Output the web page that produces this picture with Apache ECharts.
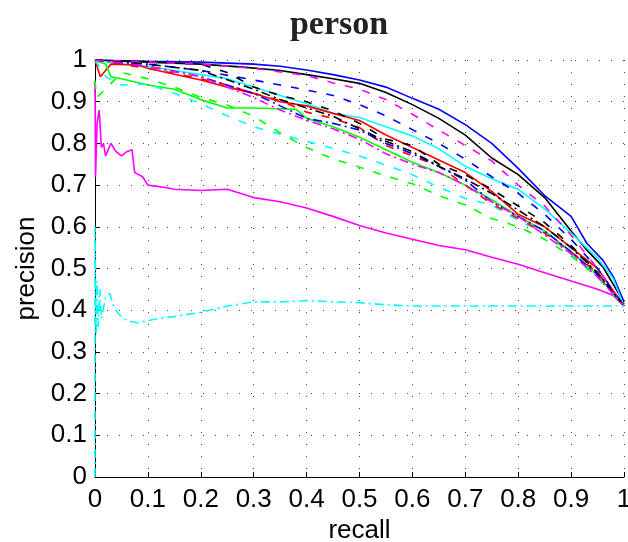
<!DOCTYPE html>
<html>
<head>
<meta charset="utf-8">
<script src="https://cdn.jsdelivr.net/npm/echarts@6/dist/echarts.min.js"></script>
<style>
  html, body { margin: 0; padding: 0; background: #fff; }
  #chart { width: 628px; height: 542px; }
</style>
</head>
<body>
<div id="chart"></div>
<script>
// recall / precision pairs
const blueSolid = [[0,1],[0.1,0.997],[0.2,0.995],[0.3,0.99],[0.35,0.985],[0.4,0.976],[0.45,0.965],[0.5,0.952],[0.55,0.935],[0.6,0.908],[0.65,0.882],[0.7,0.845],[0.75,0.8],[0.8,0.74],[0.85,0.675],[0.9,0.625],[0.93,0.56],[0.96,0.52],[0.98,0.48],[1,0.42]];
const blackSolid = [[0,1],[0.1,0.995],[0.2,0.99],[0.28,0.983],[0.35,0.975],[0.4,0.965],[0.45,0.955],[0.5,0.944],[0.55,0.922],[0.6,0.893],[0.65,0.86],[0.7,0.82],[0.75,0.765],[0.8,0.725],[0.85,0.67],[0.9,0.59],[0.93,0.544],[0.96,0.504],[0.99,0.44],[1,0.415]];
const magentaSolid = [[0,0.95],[0.001,0.72],[0.004,0.85],[0.008,0.88],[0.012,0.79],[0.016,0.8],[0.02,0.77],[0.03,0.8],[0.04,0.78],[0.05,0.77],[0.06,0.78],[0.07,0.785],[0.075,0.73],[0.09,0.72],[0.1,0.7],[0.13,0.695],[0.15,0.69],[0.2,0.687],[0.25,0.69],[0.3,0.67],[0.35,0.66],[0.4,0.645],[0.45,0.625],[0.5,0.603],[0.55,0.585],[0.6,0.57],[0.65,0.555],[0.7,0.545],[0.75,0.527],[0.8,0.51],[0.85,0.49],[0.9,0.47],[0.95,0.45],[0.98,0.435],[1,0.41]];
const cyanSolid = [[0,1],[0.05,0.99],[0.1,0.985],[0.15,0.975],[0.2,0.965],[0.25,0.955],[0.3,0.935],[0.35,0.915],[0.4,0.895],[0.45,0.872],[0.5,0.862],[0.55,0.84],[0.6,0.818],[0.65,0.787],[0.7,0.745],[0.75,0.715],[0.8,0.69],[0.85,0.643],[0.9,0.585],[0.95,0.525],[0.98,0.475],[1,0.41]];
const redSolid = [[0,1],[0.01,0.96],[0.03,0.99],[0.08,0.988],[0.1,0.98],[0.15,0.966],[0.2,0.952],[0.25,0.935],[0.3,0.92],[0.35,0.9],[0.4,0.89],[0.45,0.872],[0.5,0.855],[0.55,0.82],[0.6,0.79],[0.65,0.76],[0.7,0.73],[0.75,0.685],[0.8,0.63],[0.85,0.6],[0.9,0.55],[0.95,0.5],[1,0.41]];
const greenSolid = [[0,1],[0.02,0.99],[0.03,0.96],[0.05,0.955],[0.1,0.94],[0.15,0.93],[0.2,0.905],[0.25,0.885],[0.3,0.885],[0.38,0.882],[0.4,0.86],[0.45,0.84],[0.5,0.815],[0.55,0.785],[0.6,0.755],[0.65,0.73],[0.7,0.7],[0.75,0.665],[0.8,0.625],[0.85,0.59],[0.9,0.54],[0.95,0.485],[1,0.41]];
const blueDashed = [[0,1],[0.1,0.99],[0.2,0.975],[0.3,0.952],[0.35,0.94],[0.4,0.928],[0.45,0.915],[0.5,0.893],[0.55,0.866],[0.6,0.833],[0.65,0.8],[0.7,0.762],[0.75,0.72],[0.8,0.68],[0.85,0.63],[0.9,0.57],[0.95,0.5],[1,0.41]];
const blackDashed = [[0,1],[0.1,0.995],[0.2,0.99],[0.25,0.97],[0.3,0.935],[0.35,0.915],[0.4,0.9],[0.45,0.878],[0.5,0.848],[0.55,0.81],[0.6,0.795],[0.65,0.75],[0.7,0.725],[0.75,0.69],[0.8,0.65],[0.85,0.61],[0.9,0.555],[0.95,0.49],[1,0.41]];
const magentaDashed = [[0,1],[0.1,0.995],[0.2,0.99],[0.3,0.98],[0.4,0.963],[0.45,0.945],[0.5,0.93],[0.55,0.905],[0.6,0.87],[0.65,0.832],[0.7,0.795],[0.75,0.758],[0.8,0.7],[0.85,0.65],[0.9,0.58],[0.95,0.5],[1,0.41]];
const cyanDashed = [[0,1],[0.02,0.96],[0.05,0.94],[0.1,0.942],[0.15,0.92],[0.2,0.895],[0.25,0.866],[0.3,0.84],[0.35,0.822],[0.4,0.805],[0.45,0.788],[0.5,0.77],[0.55,0.748],[0.6,0.725],[0.65,0.695],[0.7,0.668],[0.75,0.652],[0.8,0.615],[0.85,0.585],[0.9,0.535],[0.95,0.48],[1,0.41]];
const redDashed = [[0,1],[0.05,0.99],[0.1,0.98],[0.15,0.968],[0.2,0.955],[0.25,0.94],[0.3,0.92],[0.35,0.903],[0.4,0.875],[0.45,0.86],[0.5,0.838],[0.55,0.795],[0.6,0.77],[0.65,0.745],[0.7,0.7],[0.75,0.655],[0.8,0.62],[0.85,0.585],[0.9,0.54],[0.95,0.49],[1,0.41]];
const greenDashed = [[0,0.95],[0.003,0.91],[0.02,0.93],[0.05,0.97],[0.1,0.955],[0.15,0.935],[0.2,0.91],[0.25,0.892],[0.3,0.865],[0.35,0.825],[0.4,0.79],[0.45,0.763],[0.5,0.743],[0.55,0.722],[0.6,0.703],[0.65,0.675],[0.7,0.652],[0.75,0.62],[0.8,0.6],[0.85,0.57],[0.9,0.53],[0.95,0.48],[1,0.41]];
const blueDashDot = [[0,1],[0.1,0.985],[0.2,0.96],[0.3,0.92],[0.35,0.89],[0.4,0.86],[0.45,0.848],[0.5,0.832],[0.55,0.8],[0.6,0.775],[0.65,0.745],[0.7,0.712],[0.75,0.66],[0.8,0.625],[0.85,0.59],[0.9,0.54],[0.95,0.485],[1,0.41]];
const blackDashDot = [[0,1],[0.1,0.99],[0.2,0.975],[0.3,0.93],[0.35,0.905],[0.4,0.885],[0.45,0.865],[0.5,0.835],[0.55,0.805],[0.6,0.78],[0.65,0.745],[0.7,0.715],[0.75,0.68],[0.8,0.64],[0.85,0.6],[0.9,0.55],[0.95,0.49],[1,0.41]];
const magentaDashDot = [[0,1],[0.1,0.985],[0.2,0.96],[0.3,0.91],[0.35,0.88],[0.4,0.855],[0.45,0.835],[0.5,0.81],[0.55,0.775],[0.6,0.75],[0.65,0.73],[0.7,0.7],[0.75,0.66],[0.8,0.625],[0.85,0.58],[0.9,0.535],[0.95,0.48],[1,0.41]];
const cyanDashDot = [[0,0],[0,0.6],[0.002,0.34],[0.004,0.47],[0.006,0.36],[0.009,0.45],[0.012,0.38],[0.02,0.43],[0.028,0.44],[0.035,0.41],[0.045,0.39],[0.06,0.375],[0.08,0.37],[0.1,0.375],[0.12,0.38],[0.15,0.385],[0.2,0.395],[0.25,0.41],[0.3,0.42],[0.35,0.42],[0.4,0.423],[0.45,0.42],[0.5,0.418],[0.55,0.413],[0.6,0.41],[0.7,0.41],[0.8,0.41],[0.9,0.41],[1,0.41]];

const DASH = [8, 10];
const DASHDOT = [9, 4, 2, 4];

const curves = [
  { data: blueSolid, color: '#0000ff', type: 'solid' },
  { data: blackSolid, color: '#000000', type: 'solid' },
  { data: magentaSolid, color: '#ff00ff', type: 'solid' },
  { data: cyanSolid, color: '#00ffff', type: 'solid' },
  { data: redSolid, color: '#ff0000', type: 'solid' },
  { data: greenSolid, color: '#00ff00', type: 'solid' },
  { data: blueDashed, color: '#0000ff', type: DASH },
  { data: blackDashed, color: '#000000', type: DASH },
  { data: magentaDashed, color: '#ff00ff', type: DASH },
  { data: cyanDashed, color: '#00ffff', type: DASH },
  { data: redDashed, color: '#ff0000', type: DASH },
  { data: greenDashed, color: '#00ff00', type: DASH },
  { data: blueDashDot, color: '#0000ff', type: DASHDOT },
  { data: blackDashDot, color: '#000000', type: DASHDOT },
  { data: magentaDashDot, color: '#ff00ff', type: DASHDOT },
  { data: cyanDashDot, color: '#00ffff', type: DASHDOT }
];

const chart = echarts.init(document.getElementById('chart'));
const labelFont = { fontFamily: 'Liberation Sans, Arial, sans-serif', fontSize: 26, color: '#000' };
const fmt = v => String(+v.toFixed(1));

const axisCommon = {
  type: 'value',
  min: 0,
  max: 1,
  interval: 0.1,
  axisLine: { show: true, onZero: false, lineStyle: { color: '#000', width: 1 } },
  axisTick: { show: true, inside: true, length: 5, lineStyle: { color: '#000' } },
  splitLine: { show: true, lineStyle: { color: '#444', width: 1, type: [1, 11] } },
  nameTextStyle: labelFont
};

chart.setOption({
  animation: false,
  backgroundColor: '#fff',
  title: {
    text: 'person',
    left: 334,
    top: 3,
    textAlign: 'center',
    textStyle: { fontFamily: 'Liberation Serif, Times New Roman, serif', fontWeight: 'bold', fontSize: 34, color: '#222' }
  },
  grid: { left: 95, right: 4, top: 60, bottom: 65, containLabel: false, outerBoundsMode: 'none' },
  xAxis: Object.assign({}, axisCommon, {
    name: 'recall',
    nameLocation: 'middle',
    nameGap: 38,
    axisLabel: Object.assign({ margin: 10, formatter: fmt }, labelFont)
  }),
  yAxis: Object.assign({}, axisCommon, {
    name: 'precision',
    nameLocation: 'middle',
    nameGap: 52,
    axisLabel: Object.assign({ margin: 8, formatter: fmt }, labelFont)
  }),
  series: curves.map(c => ({
    type: 'line',
    data: c.data,
    showSymbol: false,
    symbol: 'none',
    smooth: false,
    clip: true,
    lineStyle: { color: c.color, width: 1.6, type: c.type }
  }))
});
</script>
</body>
</html>
